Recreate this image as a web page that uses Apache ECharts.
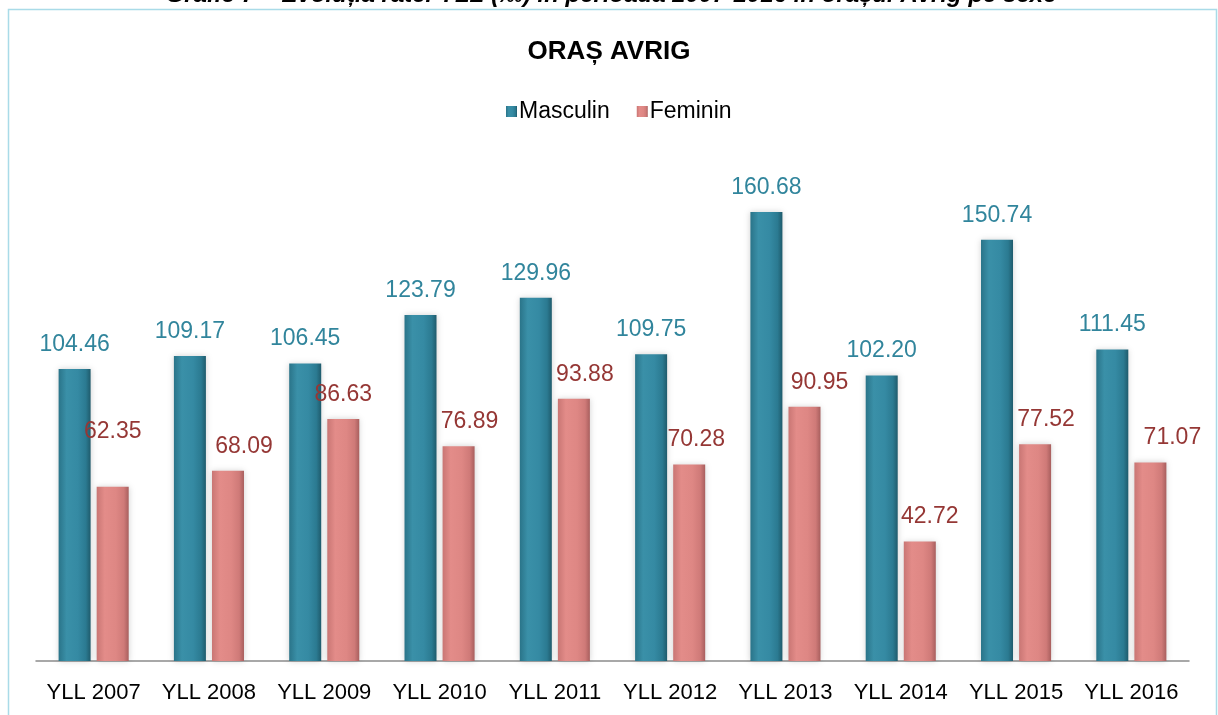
<!DOCTYPE html>
<html>
<head>
<meta charset="utf-8">
<script src="https://cdn.jsdelivr.net/npm/echarts@6/dist/echarts.min.js"></script>
<style>
html,body{margin:0;padding:0;background:#fff;}
#c{width:1218px;height:715px;}
</style>
</head>
<body>
<div id="c"></div>
<script>
const categories = ['YLL 2007','YLL 2008','YLL 2009','YLL 2010','YLL 2011','YLL 2012','YLL 2013','YLL 2014','YLL 2015','YLL 2016'];
const masculin = [104.46, 109.17, 106.45, 123.79, 129.96, 109.75, 160.68, 102.20, 150.74, 111.45];
const feminin = [62.35, 68.09, 86.63, 76.89, 93.88, 70.28, 90.95, 42.72, 77.52, 71.07];
const seriesNames = ['Masculin', 'Feminin'];
const chartTitle = 'ORAȘ AVRIG';
const caption = 'Grafic 7 – Evoluția ratei YLL (‰) în perioada 2007-2016 în orașul Avrig pe sexe';

// label nudges (style only), as in the original layout
const femLabelShiftX = [0, 16, 0, 11, 11, 7, 15, 10, 11, 22];
const femLabelShiftY = [-31, 0, 0, 0, 0, 0, 0, 0, 0, 0];

const FONT = '"Liberation Sans Narrow", "Arial Narrow", "Liberation Sans", Arial, sans-serif';

const mGrad = {type:'linear',x:0,y:0,x2:1,y2:0,colorStops:[
  {offset:0,color:'#2a7489'},{offset:0.25,color:'#3a90a8'},{offset:0.6,color:'#358aa3'},{offset:0.85,color:'#2b7a91'},{offset:1,color:'#1f5b6c'}]};
const fGrad = {type:'linear',x:0,y:0,x2:1,y2:0,colorStops:[
  {offset:0,color:'#c97674'},{offset:0.25,color:'#e38c89'},{offset:0.6,color:'#de8784'},{offset:0.85,color:'#cf7a78'},{offset:1,color:'#a85f5e'}]};

const chart = echarts.init(document.getElementById('c'), null, {renderer:'canvas'});
chart.setOption({
  animation:false,
  backgroundColor:'#fff',
  graphic:[
    {type:'rect', shape:{x:8.5,y:9.5,width:1208,height:720}, style:{fill:'none', stroke:'#a9dbe8', lineWidth:1.5}, silent:true, z:-1},
    {type:'text', x:611, y:7, style:{text:caption, font:'italic bold 24px ' + FONT, fill:'#000', align:'center', verticalAlign:'bottom'}}
  ],
  title:{
    text:chartTitle, left:'center', top:34,
    textStyle:{fontFamily:FONT, fontSize:26, fontWeight:'bold', color:'#000'}
  },
  legend:{
    data:seriesNames, top:95, left:501,
    itemWidth:11, itemHeight:11, itemGap:27,
    textStyle:{fontFamily:FONT, fontSize:23, color:'#000', padding:[0,0,0,-3]},
    icon:'rect'
  },
  grid:{left:36, right:29, top:158, bottom:54, containLabel:false},
  xAxis:{
    type:'category', data:categories,
    axisLine:{lineStyle:{color:'#8c8c8c', width:1.5}},
    axisTick:{show:false},
    axisLabel:{fontFamily:FONT, fontSize:22, color:'#000', margin:21, interval:0}
  },
  yAxis:{type:'value', min:0, max:180, show:false, splitLine:{show:false}},
  series:[
    {
      name:seriesNames[0], type:'bar', data:masculin, barWidth:32, barGap:'19%',
      itemStyle:{color:mGrad, shadowColor:'rgba(0,0,0,0.18)', shadowBlur:6},
      label:{show:true, position:'top', distance:13, formatter:p=>p.value.toFixed(2),
        fontFamily:FONT, fontSize:23, color:'#31859c'}
    },
    {
      name:seriesNames[1], type:'bar', barWidth:32,
      data:feminin.map((v,i)=>({value:v, label:{offset:[femLabelShiftX[i], femLabelShiftY[i]]}})),
      itemStyle:{color:fGrad, shadowColor:'rgba(0,0,0,0.18)', shadowBlur:6},
      label:{show:true, position:'top', distance:13, formatter:p=>p.value.toFixed(2),
        fontFamily:FONT, fontSize:23, color:'#953735'}
    }
  ]
});
</script>
</body>
</html>
